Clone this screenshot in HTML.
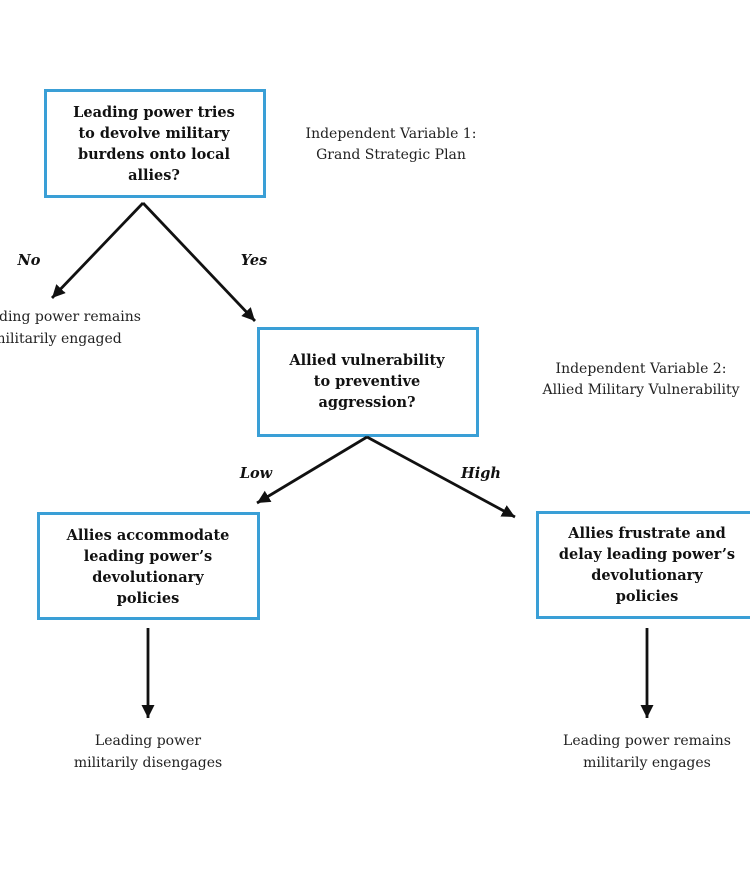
<!DOCTYPE html>
<html>
<head>
<meta charset="utf-8">
<style>
html,body{margin:0;padding:0;background:#fff;}
svg{display:block;}
.b{font-family:"DejaVu Serif","Liberation Serif",serif;font-weight:bold;font-size:14.5px;fill:#111;text-anchor:middle;}
.r{font-family:"DejaVu Serif","Liberation Serif",serif;font-size:14px;fill:#222;text-anchor:middle;}
.l{font-family:"DejaVu Serif","Liberation Serif",serif;font-weight:bold;font-style:italic;font-size:14.5px;fill:#111;text-anchor:middle;}
</style>
</head>
<body>
<svg width="750" height="870" viewBox="0 0 750 870" xmlns="http://www.w3.org/2000/svg">
<defs>
<marker id="ah" markerUnits="userSpaceOnUse" markerWidth="16" markerHeight="16" refX="13" refY="6.5" orient="auto">
<path d="M0,0 L13,6.5 L0,13 Z" fill="#111"/>
</marker>
</defs>
<rect width="750" height="870" fill="#fff"/>

<!-- Boxes -->
<g fill="none" stroke="#3a9fd6" stroke-width="3">
<rect x="45.5" y="90.5" width="219" height="106"/>
<rect x="258.5" y="328.5" width="219" height="107"/>
<rect x="38.5" y="513.5" width="220" height="105"/>
<rect x="537.5" y="512.5" width="220" height="105"/>
</g>

<!-- Connectors -->
<g stroke="#111" stroke-width="2.8" fill="none" marker-end="url(#ah)">
<line x1="143" y1="203" x2="52" y2="298"/>
<line x1="143" y1="203" x2="255" y2="321"/>
<line x1="367" y1="437" x2="257" y2="503"/>
<line x1="367" y1="437" x2="515" y2="517"/>
<line x1="148" y1="628" x2="148" y2="718"/>
<line x1="647" y1="628" x2="647" y2="718"/>
</g>

<!-- Box 1 text -->
<text class="b" x="154" y="117">Leading power tries</text>
<text class="b" x="154" y="138">to devolve military</text>
<text class="b" x="154" y="159">burdens onto local</text>
<text class="b" x="154" y="180">allies?</text>

<!-- Box 2 text -->
<text class="b" x="367" y="365">Allied vulnerability</text>
<text class="b" x="367" y="386">to preventive</text>
<text class="b" x="367" y="407">aggression?</text>

<!-- Box 3 text -->
<text class="b" x="148" y="540">Allies accommodate</text>
<text class="b" x="148" y="561">leading power’s</text>
<text class="b" x="148" y="582">devolutionary</text>
<text class="b" x="148" y="603">policies</text>

<!-- Box 4 text -->
<text class="b" x="647" y="538">Allies frustrate and</text>
<text class="b" x="647" y="559">delay leading power’s</text>
<text class="b" x="647" y="580">devolutionary</text>
<text class="b" x="647" y="601">policies</text>

<!-- Side labels -->
<text class="r" x="391" y="138">Independent Variable 1:</text>
<text class="r" x="391" y="159">Grand Strategic Plan</text>
<text class="r" x="641" y="373">Independent Variable 2:</text>
<text class="r" x="641" y="394">Allied Military Vulnerability</text>

<!-- Branch labels -->
<text class="l" x="29" y="265">No</text>
<text class="l" x="254" y="265">Yes</text>
<text class="l" x="256" y="478">Low</text>
<text class="l" x="481" y="478">High</text>

<!-- Outcomes -->
<text class="r" x="57" y="321">Leading power remains</text>
<text class="r" x="57" y="343">militarily engaged</text>
<text class="r" x="148" y="745">Leading power</text>
<text class="r" x="148" y="767">militarily disengages</text>
<text class="r" x="647" y="745">Leading power remains</text>
<text class="r" x="647" y="767">militarily engages</text>
</svg>
</body>
</html>
